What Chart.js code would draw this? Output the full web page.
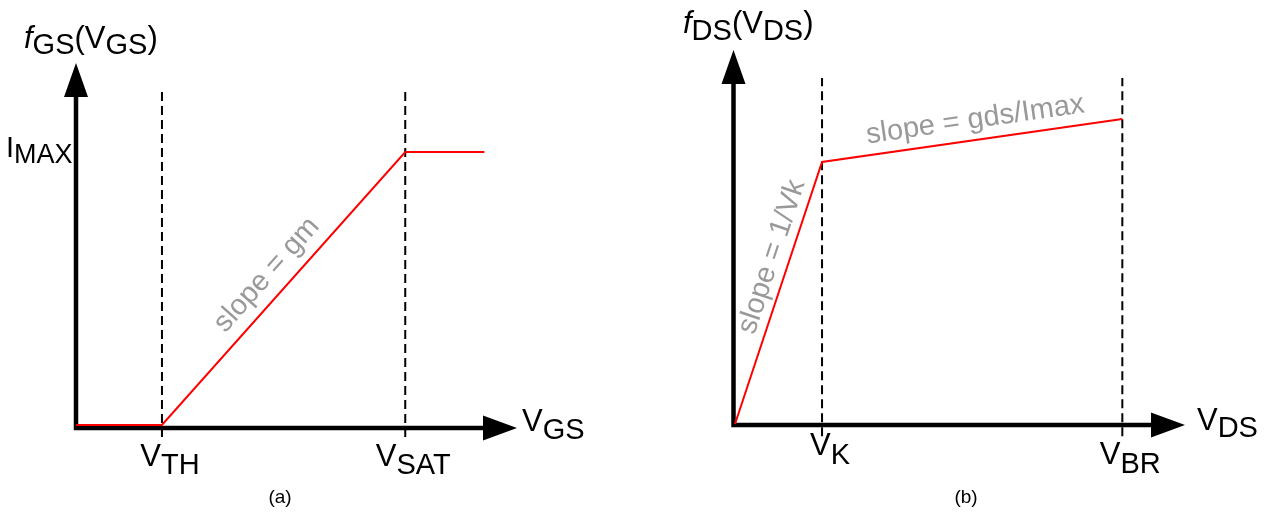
<!DOCTYPE html>
<html>
<head>
<meta charset="utf-8">
<script src="https://cdn.jsdelivr.net/npm/chart.js@4.4.0/dist/chart.umd.min.js"></script>
<style>
  html, body { margin: 0; padding: 0; background: #fff; }
  #wrap { position: relative; width: 1267px; height: 516px; }
  #wrap canvas { position: absolute; top: 0; }
</style>
</head>
<body>
<div id="wrap">
  <canvas id="gs" width="633" height="516" style="left:0"></canvas>
  <canvas id="ds" width="634" height="516" style="left:633px"></canvas>
</div>
<script>
// (a) f_GS(V_GS), normalised to I_MAX
const vgsValues = [0, 1, 3.83, 4.75];
const fgsValues = [0, 0, 1, 1];
const gsTickValues = [1, 3.83];
const gsTickLabels = [['V', 'TH'], ['V', 'SAT']];

// (b) f_DS(V_DS)
const vdsValues = [0, 1, 4.45];
const fdsValues = [0, 0.859, 1];
const dsTickValues = [1, 4.45];
const dsTickLabels = [['V', 'K'], ['V', 'BR']];

const FONT = '"Liberation Sans", Arial, Helvetica, sans-serif';
const HEAD = 34;

// draws text made of pieces: [text, kind] with kind '' normal, 's' subscript, 'i' italic
function drawRich(ctx, parts, x, y, o) {
  const main = o.main || 31, sub = o.sub || 29, drop = o.drop || 8;
  const fontOf = k => (k === 'i' ? 'italic ' : '') + (k === 's' ? sub : main) + 'px ' + FONT;
  let w = 0;
  parts.forEach(([t, k]) => { ctx.font = fontOf(k); w += ctx.measureText(t).width; });
  let cx = o.align === 'center' ? x - w / 2 : x;
  ctx.textAlign = 'left';
  ctx.textBaseline = 'alphabetic';
  parts.forEach(([t, k]) => {
    ctx.font = fontOf(k);
    ctx.fillText(t, cx, k === 's' ? y + drop : y);
    cx += ctx.measureText(t).width;
  });
}

const diagramPlugin = {
  id: 'diagram',
  beforeDatasetsDraw(chart, args, o) {
    const { ctx, scales: { x, y } } = chart;
    const x0 = x.getPixelForValue(0) + o.axisDx;
    const y0 = y.getPixelForValue(0) + o.axisDy;
    const xTip = x.getPixelForValue(x.max);
    const yTip = y.getPixelForValue(y.max);
    ctx.save();
    ctx.strokeStyle = '#000';
    ctx.fillStyle = '#000';
    ctx.lineWidth = 4.5;
    ctx.beginPath();
    ctx.moveTo(x0, y0 + 2.25);
    ctx.lineTo(x0, yTip + HEAD - 2);
    ctx.moveTo(x0 - 2.25, y0);
    ctx.lineTo(xTip - HEAD + 2, y0);
    ctx.stroke();
    // arrow heads
    ctx.beginPath();
    ctx.moveTo(x0, yTip);
    ctx.lineTo(x0 + 12, yTip + HEAD);
    ctx.lineTo(x0 - 12, yTip + HEAD);
    ctx.closePath();
    ctx.moveTo(xTip, y0);
    ctx.lineTo(xTip - HEAD, y0 - 12.5);
    ctx.lineTo(xTip - HEAD, y0 + 12.5);
    ctx.closePath();
    ctx.fill();
    ctx.restore();
  },
  afterDatasetsDraw(chart, args, o) {
    const { ctx, scales: { x, y } } = chart;
    ctx.save();
    ctx.fillStyle = '#000';
    drawRich(ctx, o.title.parts, o.title.x, o.title.y, { drop: o.title.drop });
    drawRich(ctx, o.xName.parts, o.xName.x, o.xName.y, { drop: o.xName.drop });
    if (o.yName) drawRich(ctx, o.yName.parts, o.yName.x, o.yName.y, { drop: o.yName.drop, main: 29, sub: 27 });
    o.ticks.forEach((v, i) => {
      const lab = o.tickLabels[i];
      drawRich(ctx, [[lab[0]], [lab[1], 's']], x.getPixelForValue(v) + 8, o.tickY[i], { align: 'center', drop: o.tickDrop });
    });
    ctx.font = '19px ' + FONT;
    ctx.textAlign = 'center';
    ctx.fillText(o.caption.text, o.caption.x, o.caption.y);
    // slope notes, rotated along their segment
    ctx.fillStyle = '#999999';
    ctx.font = '29px ' + FONT;
    ctx.textBaseline = 'middle';
    o.notes.forEach(n => {
      const ax = x.getPixelForValue(o.xs[n.from]), ay = y.getPixelForValue(o.ys[n.from]);
      const bx = x.getPixelForValue(o.xs[n.to]), by = y.getPixelForValue(o.ys[n.to]);
      ctx.save();
      ctx.translate(x.getPixelForValue(n.x), y.getPixelForValue(n.y));
      ctx.rotate(Math.atan2(by - ay, bx - ax));
      ctx.fillText(n.text, 0, 0);
      ctx.restore();
    });
    ctx.restore();
  }
};

function makeDiagram(id, xs, ys, ticks, tickLabels, cfg) {
  const datasets = [{
    data: xs.map((v, i) => ({ x: v, y: ys[i] })),
    borderColor: '#ff0000',
    borderWidth: 2,
    pointRadius: 0,
    fill: false,
    order: 0
  }];
  ticks.forEach(v => {
    datasets.push({
      data: [{ x: v, y: cfg.dashBottom }, { x: v, y: cfg.dashTop }],
      borderColor: '#000',
      borderWidth: 2,
      borderDash: [9, 5],
      pointRadius: 0,
      fill: false,
      order: 1
    });
  });
  new Chart(document.getElementById(id), {
    type: 'line',
    data: { datasets: datasets },
    options: {
      responsive: false,
      animation: false,
      devicePixelRatio: 1,
      layout: { padding: cfg.padding },
      elements: { line: { tension: 0 } },
      datasets: { line: { clip: false } },
      scales: {
        x: { type: 'linear', display: false, min: 0, max: cfg.xMax },
        y: { type: 'linear', display: false, min: 0, max: cfg.yMax }
      },
      plugins: {
        legend: { display: false },
        tooltip: { enabled: false },
        diagram: Object.assign({ xs: xs, ys: ys, ticks: ticks, tickLabels: tickLabels }, cfg.labels)
      }
    },
    plugins: [diagramPlugin]
  });
}

makeDiagram('gs', vgsValues, fgsValues, gsTickValues, gsTickLabels, {
  padding: { left: 76, right: 116, top: 63, bottom: 91 },
  xMax: 5.13, yMax: 1.326,
  dashTop: 1.227, dashBottom: -0.044,
  labels: {
    axisDx: 0, axisDy: 3,
    title: { parts: [['f', 'i'], ['GS', 's'], ['('], ['V'], ['GS', 's'], [')']], x: 24, y: 48, drop: 6 },
    xName: { parts: [['V'], ['GS', 's']], x: 522, y: 431, drop: 8 },
    yName: { parts: [['I'], ['MAX', 's']], x: 6, y: 157, drop: 6 },
    tickY: [466, 466], tickDrop: 8,
    caption: { text: '(a)', x: 280, y: 503 },
    notes: [{ text: 'slope = gm', x: 2.22, y: 0.55, from: 1, to: 2 }]
  }
});

makeDiagram('ds', vdsValues, fdsValues, dsTickValues, dsTickLabels, {
  padding: { left: 102, right: 82, top: 50, bottom: 92 },
  xMax: 5.17, yMax: 1.226,
  dashTop: 1.134, dashBottom: -0.04,
  labels: {
    axisDx: -1.5, axisDy: 1,
    title: { parts: [['f', 'i'], ['DS', 's'], ['('], ['V'], ['DS', 's'], [')']], x: 50, y: 33, drop: 7 },
    xName: { parts: [['V'], ['DS', 's']], x: 1197 - 633, y: 430, drop: 7 },
    tickY: [455, 464], tickDrop: 9,
    caption: { text: '(b)', x: 333, y: 503 },
    notes: [
      { text: 'slope = 1/Vk', x: 0.425, y: 0.548, from: 0, to: 1 },
      { text: 'slope = gds/Imax', x: 2.76, y: 0.997, from: 1, to: 2 }
    ]
  }
});
</script>
</body>
</html>
